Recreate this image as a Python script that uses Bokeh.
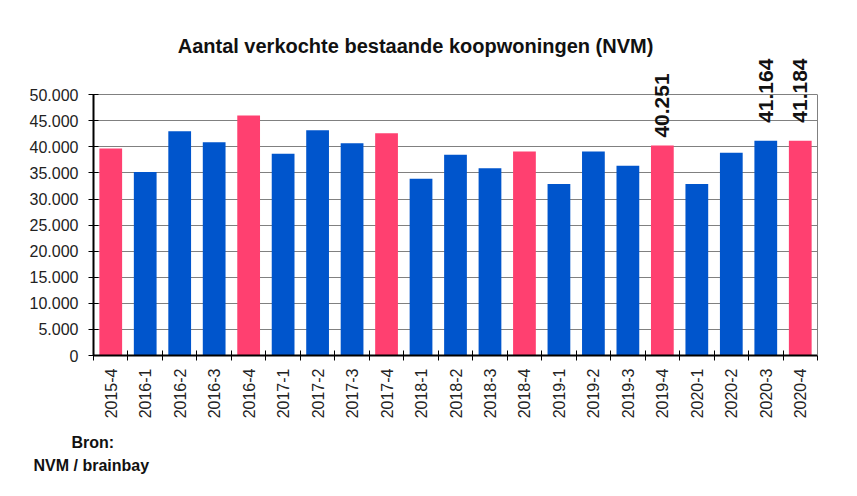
import math
from bokeh.plotting import figure
from bokeh.models import (ColumnDataSource, Range1d, FixedTicker, LabelSet, Label,
                          LinearAxis, Title)
from bokeh.core.properties import value
from bokeh.embed import file_html
from bokeh.resources import INLINE

# ---- data ----
quarters = ["2015-4", "2016-1", "2016-2", "2016-3", "2016-4", "2017-1", "2017-2",
            "2017-3", "2017-4", "2018-1", "2018-2", "2018-3", "2018-4", "2019-1",
            "2019-2", "2019-3", "2019-4", "2020-1", "2020-2", "2020-3", "2020-4"]
sales = [39700, 35200, 43000, 40900, 46000, 38700, 43200,
         40700, 42600, 33900, 38500, 35900, 39100, 32900,
         39100, 36400, 40251, 32900, 38900, 41164, 41184]
labelled_quarters = ["2019-4", "2020-3", "2020-4"]
y_ticks = [0, 5000, 10000, 15000, 20000, 25000, 30000, 35000, 40000, 45000, 50000]
y_tick_labels = ["0", "5.000", "10.000", "15.000", "20.000", "25.000", "30.000",
                 "35.000", "40.000", "45.000", "50.000"]
title_text = "Aantal verkochte bestaande koopwoningen (NVM)"
source_lines = ["Bron:", "NVM / brainbay"]

# ---- styling ----
PINK = "#FF4070"
BLUE = "#0055CC"
GRID = "#808080"
FONT = "Liberation Sans"
label_gap_px = {"2019-4": 8, "2020-3": 18, "2020-4": 18}
source_line_offsets = [-22, -60]
source_line_standoffs = [20, -12]

y_max = y_ticks[-1]
centers = [i + 0.5 for i in range(len(quarters))]
colors = [PINK if q.endswith("-4") else BLUE for q in quarters]
src = ColumnDataSource(dict(x=centers, top=sales, color=colors))

lab_idx = [quarters.index(q) for q in labelled_quarters]
lab_src = ColumnDataSource(dict(
    x=[centers[i] for i in lab_idx],
    y=[sales[i] for i in lab_idx],
    text=[f"{sales[i]:,}".replace(",", ".") for i in lab_idx],
    gap=[label_gap_px[q] for q in labelled_quarters],
))

# frame extends above the 50.000 line to leave room for title and value labels
p = figure(width=841, height=480, output_backend="svg", toolbar_location=None,
           x_range=Range1d(0, len(quarters)), y_range=Range1d(0, y_max * 325.3 / 261.0),
           min_border_left=93, min_border_right=24, min_border_top=30,
           min_border_bottom=125, title=None)
p.background_fill_color = "white"
p.border_fill_color = "white"
p.outline_line_color = None

p.vbar(x="x", top="top", width=0.66, color="color", line_color=None, source=src)

# x axis
xa = p.xaxis[0]
xa.ticker = FixedTicker(ticks=centers, minor_ticks=list(range(len(quarters) + 1)))
xa.major_label_overrides = {c: q for c, q in zip(centers, quarters)}
xa.major_label_orientation = math.pi / 2
xa.major_tick_line_color = None
xa.minor_tick_line_color = "black"
xa.minor_tick_in = 5
xa.minor_tick_out = 5
xa.axis_line_color = "black"
xa.axis_line_width = 2
xa.major_label_standoff = 7
xa.major_label_text_font = FONT
xa.major_label_text_font_size = "16px"
xa.major_label_text_color = "#222222"

# y axis
ya = p.yaxis[0]
ya.bounds = (0, y_max)
ya.ticker = FixedTicker(ticks=y_ticks, minor_ticks=[])
ya.major_label_overrides = {t: l for t, l in zip(y_ticks, y_tick_labels)}
ya.major_tick_in = 5
ya.major_tick_out = 5
ya.major_tick_line_color = "black"
ya.minor_tick_line_color = None
ya.axis_line_color = "black"
ya.axis_line_width = 2
ya.major_label_standoff = 10
ya.major_label_text_font = FONT
ya.major_label_text_font_size = "16px"
ya.major_label_text_color = "#222222"

# right border line of the plot area
ra = LinearAxis(bounds=(0, y_max), ticker=FixedTicker(ticks=[], minor_ticks=[]),
                axis_line_color=GRID, axis_line_width=1,
                major_tick_line_color=None, minor_tick_line_color=None,
                major_label_text_font_size="0px")
p.add_layout(ra, "right")

p.xgrid.grid_line_color = None
p.ygrid.grid_line_color = GRID
p.ygrid.grid_line_width = 1

labels = LabelSet(x="x", y="y", text="text", source=lab_src, angle=math.pi / 2,
                  text_align="left", text_baseline="middle", y_offset="gap",
                  text_font=value(FONT), text_font_style="bold",
                  text_font_size=value("21px"), text_color="#111111")
p.add_layout(labels)

p.add_layout(Label(x=322, y=310, x_units="screen", y_units="screen", text=title_text,
                   text_align="center", text_baseline="middle", text_font=FONT,
                   text_font_style="bold", text_font_size="20px", text_color="#111111"))

for line, off, so in zip(source_lines, source_line_offsets, source_line_standoffs):
    p.add_layout(Title(text=line, align="left", offset=off, standoff=so,
                       text_font=FONT, text_font_style="bold",
                       text_font_size="16px", text_color="#111111"), "below")

open("out.html", "w").write(file_html(p, INLINE))
